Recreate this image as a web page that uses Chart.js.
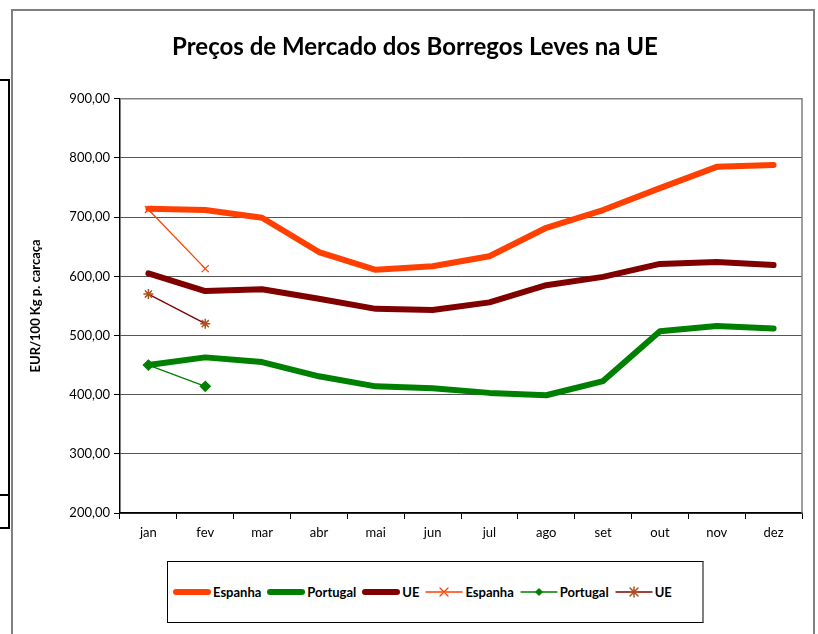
<!DOCTYPE html>
<html>
<head>
<meta charset="utf-8">
<script src="https://cdn.jsdelivr.net/npm/chart.js@4.4.1/dist/chart.umd.min.js"></script>
<style>
  body { margin: 0; background: #fff; font-family: Lato, "Open Sans", sans-serif; }
  #wrap { position: relative; width: 818px; height: 634px; overflow: hidden; }
  #frame { position: absolute; left: 11px; top: 9px; width: 800px; height: 640px; border: 2px solid #808080; }
  #side { position: absolute; left: -2px; top: 79px; width: 8px; height: 413px; border: 2px solid #000; }
  #side2 { position: absolute; left: -2px; top: 492px; width: 8px; height: 35px; border: 2px solid #000; border-top: none; }
  #chartBox { position: absolute; left: 0; top: 0; width: 818px; height: 560px; }
  #legend { position: absolute; left: 167px; top: 561px; width: 537px; height: 62px; border: 1px solid #000; border-right: 2px solid #808080;
            display: flex; align-items: center; font-weight: bold; font-size: 13px; color: #000; padding-left: 5px; box-sizing: border-box; }
  .item { display: flex; align-items: center; margin-right: 6px; }
  .item canvas { margin-right: 2px; }
</style>
</head>
<body>
<div id="wrap">
  <div id="side"></div><div id="side2"></div>
  <div id="frame"></div>
  <div id="chartBox"><canvas id="myChart" width="818" height="560"></canvas></div>
  <div id="legend"></div>
</div>
<script>
const labels = ["jan", "fev", "mar", "abr", "mai", "jun", "jul", "ago", "set", "out", "nov", "dez"];
const espanha = [714, 712, 699, 641, 611, 617, 634, 682, 712, 749, 785, 788];
const portugal = [450, 463, 455, 431, 414, 411, 403, 399, 423, 507, 516, 512];
const ue = [605, 575, 578, 562, 545, 543, 556, 585, 599, 621, 624, 619];
const espanhaPrev = [713, 613, null, null, null, null, null, null, null, null, null, null];
const portugalPrev = [450, 414, null, null, null, null, null, null, null, null, null, null];
const uePrev = [570, 520, null, null, null, null, null, null, null, null, null, null];

const plotFrame = {
  id: "plotFrame",
  afterDraw(chart){
    const a = chart.chartArea;
    const c = chart.ctx;
    c.save();
    c.strokeStyle = "#808080";
    c.lineWidth = 1.5;
    c.beginPath();
    c.moveTo(a.left, a.top);
    c.lineTo(a.right, a.top);
    c.lineTo(a.right, a.bottom);
    c.stroke();
    c.restore();
  }
};

const ctx = document.getElementById("myChart").getContext('2d');
const myChart = new Chart(ctx, {
  type: "line",
  data: {
    labels: labels,
    datasets: [
      { label: "Espanha", data: espanha, borderColor: "#FF4000", borderWidth: 6, pointRadius: 0, borderCapStyle: "round", borderJoinStyle: "round", tension: 0 },
      { label: "Portugal", data: portugal, borderColor: "#008000", borderWidth: 6, pointRadius: 0, borderCapStyle: "round", borderJoinStyle: "round", tension: 0 },
      { label: "UE", data: ue, borderColor: "#800000", borderWidth: 6, pointRadius: 0, borderCapStyle: "round", borderJoinStyle: "round", tension: 0 },
      { label: "Espanha", data: espanhaPrev, borderColor: "#FF4000", borderWidth: 1.3, pointStyle: "crossRot", pointRadius: 5, pointBorderColor: "#FF4000", pointBorderWidth: 1.3 },
      { label: "Portugal", data: portugalPrev, borderColor: "#008000", borderWidth: 1.3, pointStyle: "rectRot", pointRadius: 5, pointBackgroundColor: "#008000", pointBorderColor: "#008000" },
      { label: "UE", data: uePrev, borderColor: "#800000", borderWidth: 1.3, pointStyle: "star", pointRadius: 5, pointBorderColor: "#B0501E", pointBorderWidth: 1.5 }
    ]
  },
  options: {
    responsive: false,
    animation: false,
    layout: { padding: { left: 28, right: 16, top: 33, bottom: 16 } },
    plugins: {
      legend: { display: false },
      tooltip: { enabled: false },
      title: {
        display: true,
        text: "Preços de Mercado dos Borregos Leves na UE",
        color: "#000",
        font: { family: "Lato", size: 24, weight: "bold" },
        padding: { top: 0, bottom: 37 }
      }
    },
    scales: {
      x: {
        offset: true,
        grid: { offset: true, drawOnChartArea: false, tickLength: 6, tickColor: "#000" },
        border: { color: "#000", width: 1.5 },
        ticks: { color: "#000", font: { family: "Lato", size: 13 }, padding: 6, maxRotation: 0 },
        afterFit(s){ s.height = 31; }
      },
      y: {
        min: 200,
        max: 900,
        ticks: {
          stepSize: 100,
          color: "#000",
          font: { family: "Lato", size: 13 },
          padding: 4,
          callback: v => v.toFixed(2).replace(".", ",")
        },
        grid: { color: "#555", borderDash: [1, 1], tickLength: 6, tickColor: "#000", tickBorderDash: [] },
        border: { color: "#000", width: 1.5 },
        title: { display: true, text: "EUR/100 Kg p. carcaça", color: "#000", font: { family: "Lato", size: 13, weight: "bold" }, padding: { top: 0, bottom: 16 } },
        afterFit(s){ s.width = 92; }
      }
    }
  },
  plugins: [plotFrame]
});

// legend
const legendItems = [
  { text: "Espanha", color: "#FF4000", thick: true },
  { text: "Portugal", color: "#008000", thick: true },
  { text: "UE", color: "#800000", thick: true },
  { text: "Espanha", color: "#FF4000", marker: "x" },
  { text: "Portugal", color: "#008000", marker: "diamond" },
  { text: "UE", color: "#800000", marker: "star", markerColor: "#B0501E" }
];
const legendEl = document.getElementById("legend");
legendItems.forEach(item => {
  const div = document.createElement("div");
  div.className = "item";
  const cv = document.createElement("canvas");
  cv.width = 38; cv.height = 12;
  const g = cv.getContext("2d");
  g.strokeStyle = item.color;
  g.lineCap = "round";
  if(item.thick){
    g.lineWidth = 6;
    g.beginPath(); g.moveTo(3, 6); g.lineTo(35, 6); g.stroke();
  }else{
    g.lineWidth = 1.3;
    g.beginPath(); g.moveTo(1, 6); g.lineTo(37, 6); g.stroke();
    const mc = item.markerColor || item.color;
    g.strokeStyle = mc; g.fillStyle = mc;
    if(item.marker === "x"){
      g.beginPath(); g.moveTo(15, 2); g.lineTo(23, 10); g.moveTo(23, 2); g.lineTo(15, 10); g.stroke();
    }else if(item.marker === "diamond"){
      g.beginPath(); g.moveTo(19, 2); g.lineTo(23, 6); g.lineTo(19, 10); g.lineTo(15, 6); g.closePath(); g.fill();
    }else{
      g.lineWidth = 1.5;
      g.beginPath(); g.moveTo(15, 2); g.lineTo(23, 10); g.moveTo(23, 2); g.lineTo(15, 10);
      g.moveTo(19, 1); g.lineTo(19, 11); g.moveTo(14, 6); g.lineTo(24, 6); g.stroke();
    }
  }
  const span = document.createElement("span");
  span.textContent = item.text;
  div.appendChild(cv);
  div.appendChild(span);
  legendEl.appendChild(div);
});
</script>
</body>
</html>
